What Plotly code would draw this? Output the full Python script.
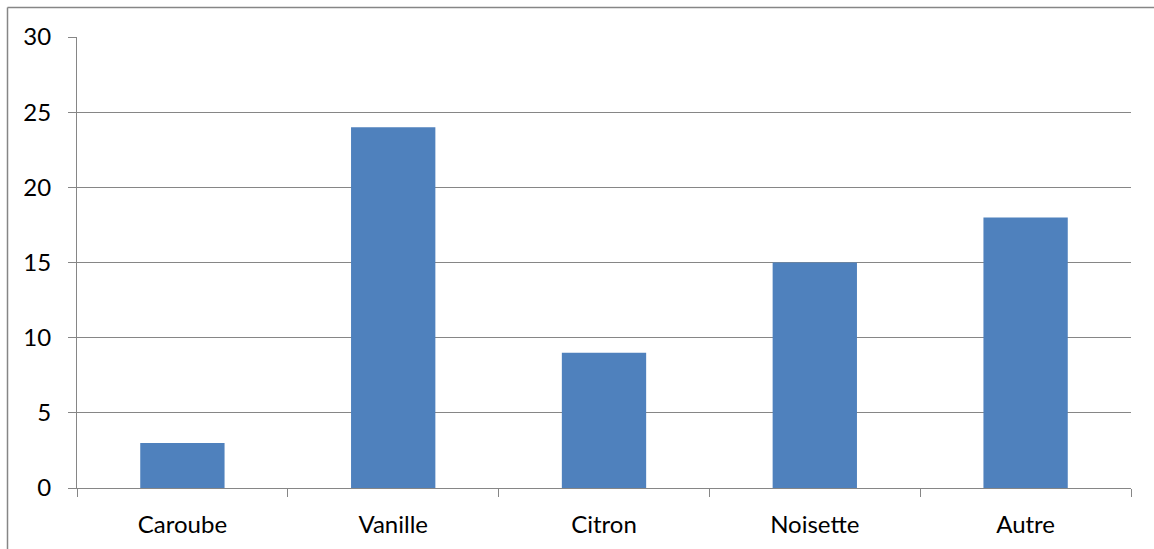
import plotly.graph_objects as go

# Flavour counts
categories = ["Caroube", "Vanille", "Citron", "Noisette", "Autre"]
counts = [3, 24, 9, 15, 18]
y_ticks = [0, 5, 10, 15, 20, 25, 30]

W, H = 1154, 549
ML, MR, MT, MB = 77, 23, 37, 61
axis_grey = "#868686"
font = dict(family="Lato, 'Open Sans', sans-serif", size=24, color="#000000")

fig = go.Figure(
    go.Bar(
        x=categories,
        y=counts,
        marker=dict(color="#4F81BD", line=dict(width=0)),
        hoverinfo="x+y",
    )
)

fig.update_layout(
    width=W,
    height=H,
    margin=dict(l=ML, r=MR, t=MT, b=MB),
    paper_bgcolor="white",
    plot_bgcolor="white",
    bargap=0.6,
    showlegend=False,
    font=font,
)

fig.update_xaxes(
    type="category",
    showgrid=False,
    showline=True,
    linecolor=axis_grey,
    linewidth=1,
    ticks="outside",
    tickson="boundaries",
    ticklen=8,
    tickcolor=axis_grey,
    tickwidth=1,
    ticklabelstandoff=15,
    tickfont=font,
)

fig.update_yaxes(
    range=[0, 30],
    tickvals=y_ticks,
    showgrid=True,
    gridcolor=axis_grey,
    gridwidth=1.2,
    zeroline=False,
    showline=True,
    linecolor=axis_grey,
    linewidth=1,
    ticks="outside",
    ticklen=8,
    tickcolor=axis_grey,
    tickwidth=1,
    ticklabelstandoff=12,
    tickfont=font,
)

# Outer frame: left and top edges of the chart area
pw = W - ML - MR
ph = H - MT - MB
x_left = (7.5 - ML) / pw
y_top = 1 + (MT - 7.5) / ph
y_bot = 1 + (MT - H) / ph
x_right = (W - ML) / pw
fig.add_shape(type="line", xref="paper", yref="paper",
              x0=x_left, x1=x_left, y0=y_bot, y1=y_top,
              line=dict(color=axis_grey, width=1.5), layer="above")
fig.add_shape(type="line", xref="paper", yref="paper",
              x0=x_left, x1=x_right, y0=y_top, y1=y_top,
              line=dict(color=axis_grey, width=1.5), layer="above")

fig.write_html("out.html")
